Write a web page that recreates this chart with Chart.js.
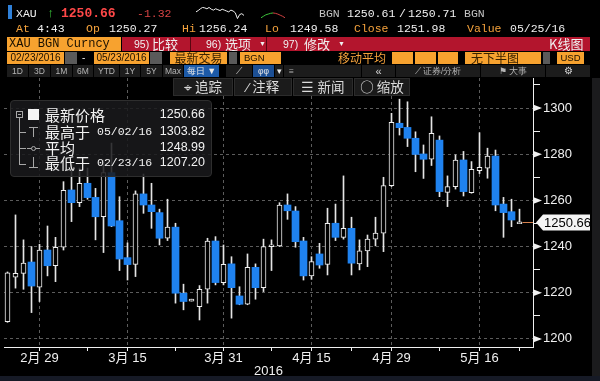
<!DOCTYPE html>
<html><head><meta charset="utf-8">
<script src="https://cdn.jsdelivr.net/npm/chart.js"></script>
<style>
html,body{margin:0;padding:0;background:#000;width:600px;height:381px;overflow:hidden;}
#wrap{position:relative;width:600px;height:381px;background:#000;}
#c{position:absolute;left:0;top:0;z-index:1;}
.t{position:absolute;white-space:nowrap;line-height:1;z-index:3;}
.m{font-family:'Liberation Mono','DejaVu Sans Mono',monospace;font-size:11.5px;}
.s{font-family:'Liberation Sans','Noto Sans CJK SC',sans-serif;}
.k{font-family:'Noto Sans CJK SC','Liberation Sans',sans-serif;}
.o{color:#f4a23c}.w{color:#f0f0f0}
.box{position:absolute;z-index:3;box-sizing:border-box;white-space:nowrap;overflow:hidden;text-align:center;}
.ob{background:#f7a22f;color:#1a1000;}
.gb{background:#5a5a5a;}
.db{background:#1c1c1c;color:#b5b5b5;font-family:'Liberation Sans',sans-serif;font-size:8.5px;line-height:12px;}
.btn{background:#1b1b1b;border:1px solid #2c2c2c;color:#dcdcdc;font-family:'Noto Sans CJK SC',sans-serif;font-size:13.5px;line-height:15px;}
.ln{position:absolute;background:#a8a8a8;z-index:4;}
.lg{position:absolute;left:0;height:15px;line-height:15px;white-space:nowrap;color:#f2f2f2;z-index:4;}
</style></head>
<body><div id="wrap">
<canvas id="c" width="600" height="381"></canvas>

<!-- row 1 -->
<div class="t" style="left:8px;top:5px;width:4px;height:14px;background:#2f80d8"></div>
<div class="t m w" style="left:16px;top:8px">XAU</div>
<div class="t m" style="left:47px;top:7px;color:#38c038;font-size:13px">↑</div>
<div class="t m" style="left:61px;top:7px;color:#ff4848;font-size:13px;font-weight:bold">1250.66</div>
<div class="t m" style="left:137px;top:8px;color:#d84444">-1.32</div>
<canvas id="sp1" width="50" height="14" style="position:absolute;left:195px;top:6px;z-index:3"></canvas>
<canvas id="sp2" width="26" height="12" style="position:absolute;left:260px;top:9px;z-index:3"></canvas>
<div class="t m" style="left:319px;top:8px;color:#c4c4c4">BGN</div>
<div class="t m w" style="left:347px;top:8px">1250.61</div>
<div class="t m w" style="left:399px;top:8px">/</div>
<div class="t m w" style="left:408px;top:8px">1250.71</div>
<div class="t m" style="left:464px;top:8px;color:#c4c4c4">BGN</div>

<!-- row 2 -->
<div class="t m o" style="left:16px;top:23px">At</div>
<div class="t m w" style="left:37px;top:23px">4:43</div>
<div class="t m o" style="left:86px;top:23px">Op</div>
<div class="t m w" style="left:109px;top:23px">1250.27</div>
<div class="t m o" style="left:182px;top:23px">Hi</div>
<div class="t m w" style="left:199px;top:23px">1256.24</div>
<div class="t m o" style="left:265px;top:23px">Lo</div>
<div class="t m w" style="left:290px;top:23px">1249.58</div>
<div class="t m o" style="left:354px;top:23px">Close</div>
<div class="t m w" style="left:397px;top:23px">1251.98</div>
<div class="t m o" style="left:467px;top:23px">Value</div>
<div class="t m w" style="left:510px;top:23px">05/25/16</div>

<!-- row 3 -->
<div class="box ob m" style="left:7px;top:37px;width:114px;height:14px;line-height:14px;text-align:left;padding-left:2px;font-size:12px">XAU BGN Curncy</div>
<div class="box" style="left:122px;top:37px;width:468px;height:14px;background:#b3152d"></div>
<div class="box" style="left:190px;top:37px;width:1px;height:14px;background:#5a0610"></div>
<div class="box" style="left:266px;top:37px;width:1px;height:14px;background:#5a0610"></div>
<div class="t s w" style="left:134px;top:39px;font-size:10.5px">95)</div>
<div class="t k w" style="left:152px;top:37px;font-size:13px">比较</div>
<div class="t s w" style="left:206px;top:39px;font-size:10.5px">96)</div>
<div class="t k w" style="left:225px;top:37px;font-size:13px">选项</div>
<div class="t s w" style="left:259px;top:40px;font-size:7px">▼</div>
<div class="t s w" style="left:283px;top:39px;font-size:10.5px">97)</div>
<div class="t k w" style="left:304px;top:37px;font-size:13px">修改</div>
<div class="t s w" style="left:338px;top:40px;font-size:7px">▼</div>
<div class="t k w" style="left:549px;top:37px;font-size:13px">K线图</div>

<!-- row 4 -->
<div class="box ob s" style="left:7px;top:52px;width:57px;height:12px;line-height:12px;font-size:10px">02/23/2016</div>
<div class="box gb" style="left:65px;top:52px;width:12px;height:12px"></div>
<div class="t s w" style="left:82px;top:53px;font-size:10px">-</div>
<div class="box ob s" style="left:94px;top:52px;width:55px;height:12px;line-height:12px;font-size:10px">05/23/2016</div>
<div class="box gb" style="left:150px;top:52px;width:12px;height:12px"></div>
<div class="box ob k" style="left:170px;top:52px;width:57px;height:12px;line-height:12px;font-size:12px;color:#3a2200">最新交易</div>
<div class="box gb" style="left:229px;top:52px;width:8px;height:12px"></div>
<div class="box ob s" style="left:240px;top:52px;width:41px;height:12px;line-height:12px;font-size:9.5px;text-align:left;padding-left:4px">BGN</div>
<div class="t k o" style="left:338px;top:52px;font-size:12px">移动平均</div>
<div class="box ob" style="left:392px;top:52px;width:21px;height:12px"></div>
<div class="box ob" style="left:415px;top:52px;width:21px;height:12px"></div>
<div class="box ob" style="left:438px;top:52px;width:20px;height:12px"></div>
<div class="box ob k" style="left:465px;top:52px;width:76px;height:12px;line-height:12px;font-size:12px;text-align:left;padding-left:6px;color:#3a2200">无下半图</div>
<div class="box gb" style="left:543px;top:52px;width:7px;height:12px"></div>
<div class="box ob s" style="left:557px;top:52px;width:27px;height:12px;line-height:12px;font-size:9.5px">USD</div>

<!-- row 5 -->
<div class="box db" style="left:7px;top:65px;width:21px;height:12px">1D</div>
<div class="box db" style="left:29px;top:65px;width:21px;height:12px">3D</div>
<div class="box db" style="left:51px;top:65px;width:21px;height:12px">1M</div>
<div class="box db" style="left:73px;top:65px;width:20px;height:12px">6M</div>
<div class="box db" style="left:94px;top:65px;width:25px;height:12px">YTD</div>
<div class="box db" style="left:120px;top:65px;width:20px;height:12px">1Y</div>
<div class="box db" style="left:141px;top:65px;width:21px;height:12px">5Y</div>
<div class="box db" style="left:163px;top:65px;width:20px;height:12px">Max</div>
<div class="box db k" style="left:184px;top:65px;width:35px;height:12px;background:#1c5aa8;color:#e8e8e8;font-size:9px">每日 ▼</div>
<div class="box db" style="left:226px;top:65px;width:26px;height:12px;color:#cfcfcf">⟋</div>
<div class="box db" style="left:253px;top:65px;width:21px;height:12px;background:#1c4f94;color:#e8e8e8">φφ</div>
<div class="box db" style="left:275px;top:65px;width:8px;height:12px;color:#e8e8e8">▾</div>
<div class="box db" style="left:284px;top:65px;width:77px;height:12px;text-align:left;padding-left:5px">≡</div>
<div class="box db" style="left:362px;top:65px;width:33px;height:12px;color:#d8d8d8;font-size:11px">«</div>
<div class="box db k" style="left:396px;top:65px;width:84px;height:12px">⟋ 证券/分析</div>
<div class="box db k" style="left:481px;top:65px;width:64px;height:12px">⚑ 大事</div>
<div class="box db" style="left:546px;top:65px;width:44px;height:12px;color:#d8d8d8;font-size:10px">⚙</div>

<!-- row 6 buttons -->
<div class="box btn" style="left:173px;top:78px;width:60px;height:18px">⌖ 追踪</div>
<div class="box btn" style="left:234px;top:78px;width:58px;height:18px">⁄ 注释</div>
<div class="box btn" style="left:293px;top:78px;width:60px;height:18px">☰ 新闻</div>
<div class="box btn" style="left:354px;top:78px;width:56px;height:18px">○ 缩放</div>

<!-- legend -->
<div style="position:absolute;left:10px;top:100px;width:202px;height:77px;background:rgba(26,26,28,0.86);border:1px solid #2e2e2e;border-radius:4px;box-sizing:border-box;z-index:3"></div>
<div class="ln" style="left:16px;top:111px;width:7px;height:7px;background:none;border:1px solid #a8a8a8;box-sizing:border-box"></div>
<div class="ln" style="left:18px;top:114px;width:3px;height:1px"></div>
<div class="ln" style="left:19px;top:118px;width:1px;height:46px"></div>
<div class="ln" style="left:19px;top:132px;width:7px;height:1px"></div>
<div class="ln" style="left:19px;top:148px;width:7px;height:1px"></div>
<div class="ln" style="left:19px;top:164px;width:7px;height:1px"></div>
<div class="ln" style="left:28px;top:109px;width:11px;height:11px;background:#f4f4f4"></div>
<div class="ln" style="left:29px;top:127px;width:9px;height:1px"></div>
<div class="ln" style="left:33px;top:127px;width:1px;height:10px"></div>
<div class="ln" style="left:27px;top:148px;width:13px;height:1px"></div>
<div class="ln" style="left:31px;top:146px;width:5px;height:5px;border-radius:3px;background:#1a1a1c;border:1px solid #a8a8a8;box-sizing:border-box"></div>
<div class="ln" style="left:33px;top:157px;width:1px;height:10px"></div>
<div class="ln" style="left:29px;top:167px;width:9px;height:1px"></div>
<div class="lg k" style="left:45px;top:107px;font-size:15px">最新价格</div>
<div class="lg s" style="left:150px;top:107px;width:55px;text-align:right;font-size:12.5px">1250.66</div>
<div class="lg k" style="left:45px;top:124px;font-size:15px">最高于</div>
<div class="lg m" style="left:97px;top:124px;font-size:11.5px">05/02/16</div>
<div class="lg s" style="left:150px;top:124px;width:55px;text-align:right;font-size:12.5px">1303.82</div>
<div class="lg k" style="left:45px;top:140px;font-size:15px">平均</div>
<div class="lg s" style="left:150px;top:140px;width:55px;text-align:right;font-size:12.5px">1248.99</div>
<div class="lg k" style="left:45px;top:155px;font-size:15px">最低于</div>
<div class="lg m" style="left:97px;top:155px;font-size:11.5px">02/23/16</div>
<div class="lg s" style="left:150px;top:155px;width:55px;text-align:right;font-size:12.5px">1207.20</div>

<!-- frame -->
<div style="position:absolute;left:592px;top:78px;width:8px;height:303px;background:#1b1b1d;z-index:2"></div>
<div style="position:absolute;left:0;top:376px;width:600px;height:5px;background:#161a26;z-index:2"></div>
</div>
<script>
// ---- data ----
const dates = ['02/23','02/24','02/25','02/26','02/29',
 '03/01','03/02','03/03','03/04','03/07','03/08','03/09','03/10','03/11','03/14','03/15','03/16','03/17','03/18','03/21','03/22','03/23','03/24','03/25','03/28','03/29','03/30','03/31',
 '04/01','04/04','04/05','04/06','04/07','04/08','04/11','04/12','04/13','04/14','04/15','04/18','04/19','04/20','04/21','04/22','04/25','04/26','04/27','04/28','04/29',
 '05/02','05/03','05/04','05/05','05/06','05/09','05/10','05/11','05/12','05/13','05/16','05/17','05/18','05/19','05/20','05/23'];
const open  = [1207.5,1226.7,1228.4,1233.3,1222.4,1238.5,1231.7,1239.7,1264.5,1259.0,1267.4,1261.3,1252.9,1272.0,1251.2,1235.2,1232.3,1262.8,1258.0,1254.7,1243.6,1248.4,1219.8,1216.4,1214.0,1221.5,1242.4,1224.4,1232.5,1218.6,1215.0,1231.0,1222.2,1240.0,1240.3,1258.0,1255.4,1242.4,1227.3,1236.8,1232.3,1250.1,1244.0,1247.9,1232.5,1238.1,1243.2,1245.8,1266.4,1293.4,1291.6,1286.9,1280.1,1277.8,1286.1,1263.5,1265.9,1277.5,1263.3,1272.9,1273.9,1279.2,1258.4,1255.1,1249.9];
const high  = [1229.0,1253.7,1242.9,1240.0,1241.0,1248.9,1244.0,1268.1,1276.0,1274.0,1274.0,1265.2,1277.5,1284.8,1261.6,1241.6,1264.1,1271.4,1267.4,1256.2,1260.5,1250.1,1223.7,1217.2,1223.1,1243.6,1244.3,1240.7,1235.6,1222.6,1236.8,1232.5,1243.2,1242.9,1259.0,1262.8,1257.3,1244.0,1235.6,1241.4,1256.6,1258.4,1270.6,1252.7,1242.9,1245.0,1252.7,1270.0,1297.7,1303.82,1302.7,1289.7,1284.0,1296.2,1287.9,1270.6,1279.7,1281.2,1276.8,1289.3,1282.6,1281.8,1261.3,1260.5,1256.2];
const low   = [1207.2,1222.0,1221.5,1211.4,1216.2,1227.3,1224.8,1238.5,1250.8,1257.3,1260.5,1242.9,1237.4,1248.6,1229.6,1225.5,1227.0,1254.4,1247.9,1240.7,1242.6,1215.5,1212.6,1216.4,1208.2,1215.5,1223.4,1223.4,1209.0,1214.8,1214.8,1217.2,1220.5,1229.6,1240.0,1251.8,1239.7,1225.5,1225.8,1230.6,1227.7,1242.6,1243.2,1227.7,1229.9,1231.3,1240.3,1237.8,1266.0,1288.3,1283.3,1272.4,1269.5,1275.1,1261.6,1257.3,1264.9,1261.9,1263.1,1271.6,1269.6,1255.5,1244.0,1248.6,1249.9];
const close = [1228.6,1228.4,1232.8,1222.9,1238.5,1231.7,1239.7,1264.4,1259.0,1267.4,1261.2,1252.9,1272.0,1248.9,1234.6,1232.2,1262.8,1258.0,1255.1,1243.6,1248.4,1219.8,1216.2,1217.2,1221.5,1242.4,1224.4,1232.3,1222.2,1215.0,1231.0,1222.2,1240.0,1240.8,1258.0,1255.5,1242.1,1227.3,1233.5,1232.0,1250.1,1244.0,1247.9,1232.8,1238.1,1243.2,1245.8,1266.4,1293.8,1291.5,1286.9,1279.9,1277.8,1289.0,1263.8,1266.0,1277.5,1263.8,1273.5,1274.3,1279.2,1258.0,1254.7,1251.5,1250.66];
const majorTickDates  = ['02/29','03/15','03/31','04/15','04/29','05/16'];
const majorTickLabels = ['2月 29','3月 15','3月 31','4月 15','4月 29','5月 16'];
const minorTickDates  = ['03/08','03/23','04/08','04/22','05/09','05/23'];
const yMajorTicks = [1200,1220,1240,1260,1280,1300];
const yMinorTicks = [1210,1230,1250,1270,1290,1310];
const lastPrice = 1250.66;
const xAxisTitle = '2016';
const spark1 = [15,18,22,25,24,22,25,21,19,22,20,18,21,19,17,15,19,17,13,0,9,11,7];
const spark2 = [5,9,13,15,17,18,17,15,12,9,5];

// ---- build ----
const BLUE = '#1f82ef', WHITE = '#f0f0f0';
const idxOf = d => dates.indexOf(d);
const majorIdx = majorTickDates.map(idxOf);
const minorIdx = minorTickDates.map(idxOf);
const upData = [], downData = [], wickData = [];
dates.forEach((d,i)=>{
  wickData.push({x:i, y:[low[i], high[i]]});
  const b = {x:i, y:[Math.min(open[i],close[i]), Math.max(open[i],close[i])]};
  (close[i] >= open[i] ? upData : downData).push(b);
});
const FONT = "'Liberation Sans','Noto Sans CJK SC',sans-serif";
Chart.defaults.font.family = FONT;

const overlay = {
  id:'overlay',
  afterDraw(chart){
    const {ctx, chartArea:a, scales:{x, y}} = chart;
    ctx.save();
    ctx.fillStyle = WHITE;
    yMajorTicks.forEach(v=>{
      const py = y.getPixelForValue(v);
      ctx.beginPath(); ctx.moveTo(a.right, py-3.5); ctx.lineTo(a.right+9, py); ctx.lineTo(a.right, py+3.5); ctx.closePath(); ctx.fill();
    });
    const py = Math.round(y.getPixelForValue(lastPrice)) + 0.5;
    const px = x.getPixelForValue(dates.length-1);
    ctx.strokeStyle = '#d7824e'; ctx.lineWidth = 1;
    ctx.beginPath(); ctx.moveTo(px+3, py); ctx.lineTo(a.right, py); ctx.stroke();
    const L = a.right + 3, R = 590;
    ctx.fillStyle = '#f4f4f4';
    ctx.beginPath(); ctx.moveTo(L, py); ctx.lineTo(L+7, py-8); ctx.lineTo(R, py-8); ctx.lineTo(R, py+8); ctx.lineTo(L+7, py+8); ctx.closePath(); ctx.fill();
    ctx.fillStyle = '#000'; ctx.font = '13px ' + FONT; ctx.textBaseline = 'middle'; ctx.textAlign = 'left';
    ctx.fillText(lastPrice.toFixed(2), L+8, py+0.5);
    ctx.restore();
  }
};

new Chart(document.getElementById('c'), {
  type:'bar',
  data:{datasets:[
    {label:'up', data:upData, grouped:false, order:0, barThickness:5, borderWidth:1, borderSkipped:false, backgroundColor:'#000', borderColor:WHITE},
    {label:'down', data:downData, grouped:false, order:0, barThickness:7, borderWidth:0, backgroundColor:BLUE},
    {label:'wick', data:wickData, grouped:false, order:1, barThickness:1, borderWidth:0, backgroundColor:'#e4e4e4'}
  ]},
  options:{
    animation:false, responsive:false, maintainAspectRatio:false,
    layout:{padding:{top:78, left:4, right:0, bottom:0}},
    plugins:{legend:{display:false}, tooltip:{enabled:false}},
    scales:{
      x:{type:'linear', min:-0.4375, max:65.6875, offset:false,
        afterBuildTicks:s=>{ s.ticks = majorIdx.concat(minorIdx).sort((p,q)=>p-q).map(v=>({value:v})); },
        afterFit:s=>{ s.height = 34; },
        ticks:{autoSkip:false, maxRotation:0, minRotation:0, color:WHITE, padding:0, font:{size:13},
          callback:v=>{ const k = majorIdx.indexOf(v); return k>=0 ? majorTickLabels[k] : ''; }},
        grid:{offset:false, color:c=> (c.tick && majorIdx.includes(c.tick.value)) ? '#5c5c5c' : 'rgba(0,0,0,0)',
          tickColor:WHITE, tickLength:4, lineWidth:1},
        border:{display:true, color:WHITE, width:1, dash:[3,3]},
        title:{display:true, text:xAxisTitle, color:WHITE, font:{size:13}, padding:{top:0, bottom:2}}
      },
      y:{position:'right', min:1196.5, max:1313,
        afterBuildTicks:s=>{ s.ticks = yMajorTicks.concat(yMinorTicks).sort((p,q)=>p-q).map(v=>({value:v})); },
        afterFit:s=>{ s.width = 67; },
        ticks:{color:WHITE, padding:3, font:{size:13}, callback:v=> yMajorTicks.includes(v) ? String(v) : ''},
        grid:{color:c=> (c.tick && yMajorTicks.includes(c.tick.value)) ? '#5c5c5c' : 'rgba(0,0,0,0)',
          tickColor:WHITE, tickLength:7, lineWidth:1},
        border:{display:true, color:WHITE, width:1, dash:[3,3]}
      }
    }
  },
  plugins:[overlay]
});

// header sparklines
function spark(id, vals, colorFn){
  new Chart(document.getElementById(id), {
    type:'line',
    data:{labels:vals.map((v,i)=>i), datasets:[{data:vals, borderWidth:1, pointRadius:0, borderColor:'#f0f0f0', tension:0,
      segment:{borderColor:colorFn}}]},
    options:{animation:false, responsive:false, plugins:{legend:{display:false}, tooltip:{enabled:false}},
      layout:{padding:1}, scales:{x:{display:false}, y:{display:false, min:-1, max:26}}}
  });
}
spark('sp1', spark1, ()=> '#f0f0f0');
spark('sp2', spark2, c=> c.p0DataIndex < 5 ? '#3cc23c' : '#d04040');
</script>
</body></html>
